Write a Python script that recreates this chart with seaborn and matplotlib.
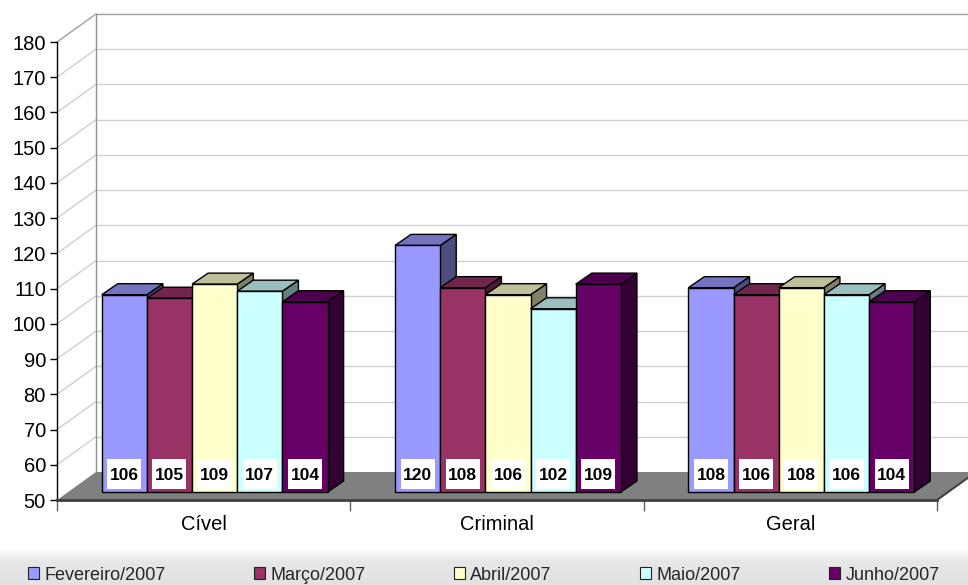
import numpy as np
import pandas as pd
import matplotlib
matplotlib.use('Agg')
import matplotlib.pyplot as plt
from matplotlib.patches import Polygon, Patch, Rectangle
from matplotlib.lines import Line2D
from matplotlib.transforms import IdentityTransform
import matplotlib.colors as mcolors
import seaborn as sns

# ---------------- data ----------------
categorias = ['Cível', 'Criminal', 'Geral']
meses = ['Fevereiro/2007', 'Março/2007', 'Abril/2007', 'Maio/2007', 'Junho/2007']
fevereiro = [106, 120, 108]
marco = [105, 108, 106]
abril = [109, 106, 108]
maio = [107, 102, 106]
junho = [104, 109, 104]
cores = ['#9999FF', '#993366', '#FFFFCC', '#CCFFFF', '#660066']
y_ticks = list(range(50, 181, 10))

series = [fevereiro, marco, abril, maio, junho]
df = pd.DataFrame(
    [(c, m, v) for m, vals in zip(meses, series) for c, v in zip(categorias, vals)],
    columns=['categoria', 'mes', 'valor'])

sns.set_theme(style='white')
plt.rcParams['font.family'] = ['Liberation Sans', 'DejaVu Sans']

W, H = 968, 585
fig = plt.figure(figsize=(W / 100, H / 100), dpi=100)
fig.patch.set_facecolor('white')

# geometry (pixels)
L, R, B, T = 57, 937, 500, 42      # front plane (image coords)
DX, DY = 39, 28                    # wall depth
BX, BY = 11, 8                     # bar front plane offset
BDX, BDY = 16, 11                  # bar depth
LBL_W, LBL_H, LBL_UP = 34, 30, 18  # value label box

ax = fig.add_axes([L / W, (H - B) / H, (R - L) / W, (B - T) / H])
ax_bar = fig.add_axes([(L + BX) / W, (H - B + BY) / H, (R - L) / W, (B - T) / H])
ax.set_zorder(0)
ax_bar.set_zorder(1)

sns.barplot(data=df, x='categoria', y='valor', hue='mes', order=categorias,
            hue_order=meses, palette=cores, saturation=1, width=0.77,
            edgecolor='black', linewidth=1, errorbar=None, legend=False, ax=ax_bar)

for a in (ax, ax_bar):
    a.set_xlim(-0.5, 2.5)
    a.set_ylim(y_ticks[0], y_ticks[-1])
ax_bar.axis('off')
ax_bar.patch.set_alpha(0)
ax.set_facecolor('none')

ymin = y_ticks[0]

# ---------------- 3D bar faces ----------------
to_disp = ax_bar.transData.transform
bars = list(ax_bar.patches)
for i, p in enumerate(bars):
    k = i // len(categorias)
    x0 = p.get_x()
    w = p.get_width()
    h = p.get_y() + p.get_height()
    p.set_y(ymin)
    p.set_height(h - ymin)
    p.set_clip_on(False)
    X0, Yb = to_disp((x0, ymin))
    X1, Yt = to_disp((x0 + w, h))
    base = np.array(mcolors.to_rgb(p.get_facecolor()))
    side = Polygon([(X1, Yb), (X1, Yt), (X1 + BDX, Yt + BDY), (X1 + BDX, Yb + BDY)],
                   closed=True, transform=IdentityTransform(), facecolor=base * 0.5,
                   edgecolor='black', lw=1, clip_on=False, zorder=2 + k * 0.3)
    top = Polygon([(X0, Yt), (X1, Yt), (X1 + BDX, Yt + BDY), (X0 + BDX, Yt + BDY)],
                  closed=True, transform=IdentityTransform(), facecolor=base * 0.75,
                  edgecolor='black', lw=1, clip_on=False, zorder=2 + k * 0.3 + 0.1)
    ax_bar.add_patch(side)
    ax_bar.add_patch(top)
    p.set_zorder(2 + k * 0.3 + 0.2)
    Xc = (X0 + X1) / 2
    Yc = Yb + LBL_UP
    ax_bar.add_patch(Rectangle((Xc - LBL_W / 2, Yc - LBL_H / 2), LBL_W, LBL_H,
                               facecolor='white', edgecolor='none',
                               transform=IdentityTransform(), clip_on=False, zorder=9))
    ax_bar.annotate(f'{h:.0f}', xy=(x0 + w / 2, ymin), xytext=(0, LBL_UP),
                    textcoords='offset pixels', ha='center', va='center_baseline',
                    fontsize=12.5, fontweight='bold', color='black', zorder=10,
                    annotation_clip=False)

# ---------------- walls / floor ----------------
tf = ax.transData.transform
fl = np.array(tf((-0.5, ymin)))
fr = np.array(tf((2.5, ymin)))
d = np.array([DX, DY])
ax.add_patch(Polygon([fl, fr, fr + d, fl + d], closed=True, facecolor='#808080',
                     edgecolor='none', transform=IdentityTransform(), clip_on=False, zorder=1))
for v in y_ticks[1:]:
    pl = np.array(tf((-0.5, v)))
    pr = np.array(tf((2.5, v)))
    col = '#A0A0A0' if v == y_ticks[-1] else '#CFCFCF'
    ax.add_line(Line2D([pl[0] + DX, pr[0] + DX], [pl[1] + DY, pr[1] + DY], color=col,
                       lw=1, transform=IdentityTransform(), clip_on=False, zorder=0.5))
    ax.add_line(Line2D([pl[0], pl[0] + DX], [pl[1], pl[1] + DY], color=col,
                       lw=1, transform=IdentityTransform(), clip_on=False, zorder=0.5))
ptop = np.array(tf((-0.5, y_ticks[-1])))
ax.add_line(Line2D([fl[0] + DX, ptop[0] + DX], [fl[1] + DY, ptop[1] + DY], color='#909090',
                   lw=1, transform=IdentityTransform(), clip_on=False, zorder=0.6))
ax.add_line(Line2D([fr[0], fr[0] + DX], [fr[1], fr[1] + DY], color='#404040',
                   lw=1.5, transform=IdentityTransform(), clip_on=False, zorder=1.2))

# ---------------- axes styling ----------------
for s in ('top', 'right'):
    ax.spines[s].set_visible(False)
ax.spines['left'].set_color('black')
ax.spines['left'].set_linewidth(1)
ax.spines['bottom'].set_color('#404040')
ax.spines['bottom'].set_linewidth(2)
ax.set_yticks(y_ticks)
ax.set_yticklabels([str(v) for v in y_ticks])
ax.tick_params(axis='y', which='major', direction='out', length=5, width=1,
               color='black', labelsize=14.5, pad=3, labelcolor='black', left=True)
ax.set_xticks([0, 1, 2])
ax.set_xticklabels(categorias)
ax.set_xticks([-0.5, 0.5, 1.5, 2.5], minor=True)
ax.tick_params(axis='x', which='major', length=0, labelsize=14.5, pad=11, labelcolor='black')
ax.tick_params(axis='x', which='minor', direction='out', length=8, width=1,
               color='#606060', bottom=True)
ax.set_xlabel('')
ax.set_ylabel('')
ax.grid(False)

# ---------------- legend band ----------------
band_h = 36
bax = fig.add_axes([0, 0, 1, band_h / H])
t = np.linspace(0, 1, band_h)
vals = 1 - 0.085 * np.clip(t / 0.35, 0, 1) ** 0.8 - 0.03 * t
grad = np.repeat(vals[:, None, None], 3, axis=2)
bax.imshow(grad, aspect='auto', extent=[0, 1, 0, 1], interpolation='bilinear')
bax.axis('off')
bax.set_zorder(-1)

handles = [Patch(facecolor=c, edgecolor='#222222', lw=0.8) for c in cores]
fig.legend(handles, meses, loc='center', bbox_to_anchor=(0.5, 10 / H), ncol=5,
           frameon=False, fontsize=13, handlelength=0.6, handleheight=0.6,
           handletextpad=0.3, columnspacing=4.9, borderpad=0, borderaxespad=0)

fig.savefig('out.png', dpi=100)
